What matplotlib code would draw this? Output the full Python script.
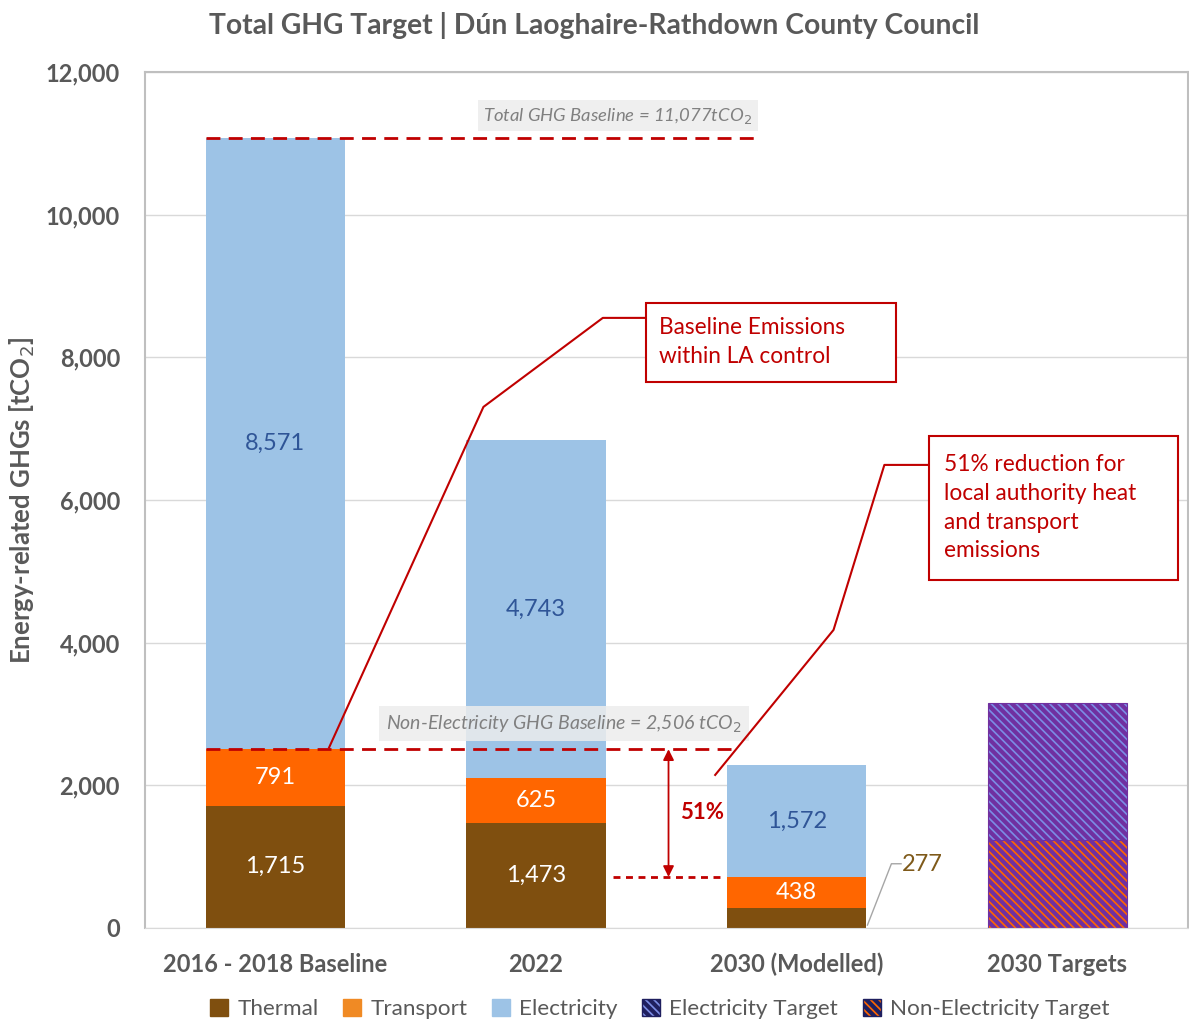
import matplotlib.pyplot as plt
from matplotlib.patches import Patch, Rectangle

plt.rcParams['font.family'] = ['Lato', 'DejaVu Sans']
plt.rcParams['hatch.linewidth'] = 3.0

# data
categories = ['2016 - 2018 Baseline', '2022', '2030 (Modelled)', '2030 Targets']
thermal = [1715, 1473, 277]
transport = [791, 625, 438]
electricity = [8571, 4743, 1572]
non_elec_target = 1228
elec_target = 1928
baseline_total = 11077
baseline_non_elec = 2506

red = '#C00000'
grey = '#595959'
c_thermal = '#7F4F0F'
c_transport = '#FF6600'
c_elec = '#9DC3E6'
c_purple = '#7030A0'

fig = plt.figure(figsize=(11.89, 10.23), dpi=100)
ax = fig.add_axes([0.122, 0.0929, 0.877, 0.8368])

x = [0, 1, 2]
w = 0.534
b1 = ax.bar(x, thermal, w, color=c_thermal, zorder=2)
b2 = ax.bar(x, transport, w, bottom=thermal, color=c_transport, zorder=2)
bot3 = [t + r for t, r in zip(thermal, transport)]
b3 = ax.bar(x, electricity, w, bottom=bot3, color=c_elec, zorder=2)

# target bar (hatched)
t1 = ax.bar(3, non_elec_target, w, color=c_transport, edgecolor=c_purple, hatch='\\\\\\\\', lw=0.8, zorder=2)
t2 = ax.bar(3, elec_target, w, bottom=non_elec_target, color='#7B8CE4', edgecolor=c_purple,
            hatch='\\\\\\\\', lw=0.8, zorder=2)

# value labels
for i in range(3):
    if i < 2:
        ax.text(i, thermal[i] / 2, f'{thermal[i]:,}', ha='center', va='center', color='white', fontsize=17, zorder=5)
    ax.text(i, thermal[i] + transport[i] / 2, f'{transport[i]:,}', ha='center', va='center', color='white', fontsize=17, zorder=5)
    ax.text(i, bot3[i] + electricity[i] / 2, f'{electricity[i]:,}', ha='center', va='center', color='#2F5597', fontsize=17, zorder=5)

# 277 label with leader
ax.plot([2.271, 2.363, 2.40], [40, 900, 900], color='#A6A6A6', lw=1, zorder=5)
ax.text(2.405, 890, f'{thermal[2]:,}', ha='left', va='center', color='#7F5A1A', fontsize=17)

# baseline dashed lines
ax.plot([-0.267, 1.85], [baseline_total] * 2, color=red, lw=2, ls=(0, (5, 3)), zorder=4)
ax.plot([-0.267, 1.755], [baseline_non_elec] * 2, color=red, lw=2, ls=(0, (5, 3)), zorder=4)
ax.plot([1.294, 1.725], [thermal[2] + transport[2]] * 2, color=red, lw=2, ls=(0, (2.5, 2)), zorder=4)

ax.text(1.313, 11384, 'Total GHG Baseline = 11,077tCO$_2$', ha='center', va='center', style='italic',
        color='#808080', fontsize=13.3, zorder=6,
        bbox=dict(boxstyle='square,pad=0.3', fc='#EDEDED', ec='none', alpha=0.85))
ax.text(1.107, 2860, 'Non-Electricity GHG Baseline = 2,506 tCO$_2$', ha='center', va='center', style='italic',
        color='#808080', fontsize=14, zorder=6,
        bbox=dict(boxstyle='square,pad=0.35', fc='#EDEDED', ec='none', alpha=0.85))

# 51% arrow
ax.annotate('', xy=(1.508, thermal[2] + transport[2]), xytext=(1.508, baseline_non_elec),
            arrowprops=dict(arrowstyle='<|-|>', color=red, lw=1.3, mutation_scale=16, shrinkA=0, shrinkB=0), zorder=6)
ax.text(1.637, 1612, '51%', ha='center', va='center', color=red, fontsize=16, fontweight='bold')

# callouts
ax.plot([0.206, 0.798, 1.256, 1.42], [2530, 7304, 8552, 8552], color=red, lw=1.5, zorder=6)
ax.add_patch(Rectangle((1.42, 7655), 0.962, 1107, fc='white', ec=red, lw=1.5, zorder=7))
ax.text(1.473, 8215, 'Baseline Emissions\nwithin LA control', ha='left', va='center', color=red, fontsize=16.3,
        linespacing=1.45, zorder=8)
ax.plot([1.687, 2.141, 2.336, 2.508], [2145, 4178, 6491, 6491], color=red, lw=1.5, zorder=6)
ax.add_patch(Rectangle((2.508, 4879), 0.954, 2018, fc='white', ec=red, lw=1.5, zorder=7))
ax.text(2.565, 5888, '51% reduction for\nlocal authority heat\nand transport\nemissions', ha='left', va='center',
        color=red, fontsize=16.3, linespacing=1.45, zorder=8)

# axes styling
ax.set_xlim(-0.5, 3.5)
ax.set_ylim(0, 12000)
ax.set_yticks(range(0, 12001, 2000))
ax.set_yticklabels([f'{v:,}' for v in range(0, 12001, 2000)])
ax.set_xticks(range(4))
ax.set_xticklabels(categories)
ax.tick_params(length=0, labelsize=17, labelcolor=grey)
ax.tick_params(axis='y', pad=18)
ax.tick_params(axis='x', pad=18)
for lab in ax.get_xticklabels() + ax.get_yticklabels():
    lab.set_fontweight('bold')
ax.grid(axis='y', color='#D9D9D9', lw=1, zorder=0)
ax.set_axisbelow(True)
for s in ['top', 'right', 'left']:
    ax.spines[s].set_color('#BFBFBF')
    ax.spines[s].set_linewidth(1.5)
ax.spines['bottom'].set_color('#D9D9D9')
ax.set_ylabel('Energy-related GHGs [tCO$_2$]', fontsize=18.5, fontweight='bold', color=grey)
ax.yaxis.label.set_va('center')
ax.yaxis.set_label_coords(-0.118, 0.5)
fig.suptitle('Total GHG Target | Dún Laoghaire-Rathdown County Council', x=0.5, y=0.988, va='top',
             fontsize=20.3, fontweight='bold', color=grey)

handles = [Patch(color=c_thermal), Patch(color='#F08A24'), Patch(color=c_elec),
           Patch(facecolor='#7B8CE4', edgecolor='#1F1F5F', hatch='\\\\\\\\'),
           Patch(facecolor=c_transport, edgecolor='#1F1F5F', hatch='\\\\\\\\')]
fig.legend(handles, ['Thermal', 'Transport', 'Electricity', 'Electricity Target', 'Non-Electricity Target'],
           loc='lower center', bbox_to_anchor=(0.555, -0.016), ncol=5, frameon=False, fontsize=16.2,
           handlelength=0.8, handleheight=0.8, handletextpad=0.4, columnspacing=1.1, labelcolor=grey)

fig.savefig('out.png', dpi=100)
